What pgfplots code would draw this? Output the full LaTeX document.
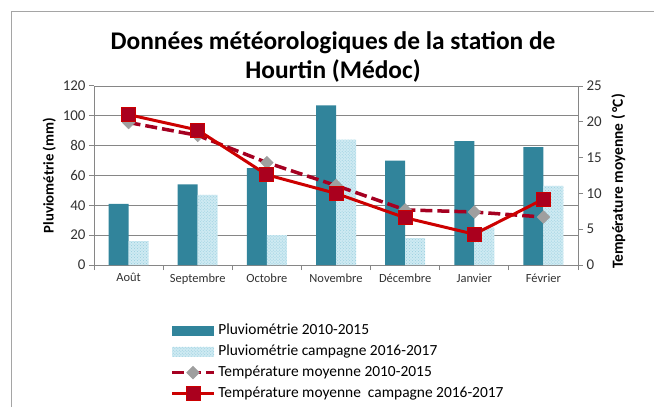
\documentclass[border=0pt]{standalone}
\usepackage{fontspec}
\setmainfont{Carlito}
\usepackage{pgfplots}
\pgfplotsset{compat=1.18}
\usetikzlibrary{patterns}
\definecolor{teal1}{RGB}{49,132,155}
\definecolor{lightb}{RGB}{206,234,242}
\definecolor{lightdot}{RGB}{150,205,222}
\definecolor{dred}{RGB}{165,0,33}
\definecolor{red1}{RGB}{204,0,0}
\definecolor{mkred}{RGB}{170,0,30}
\definecolor{gridc}{RGB}{134,134,134}
\definecolor{framec}{RGB}{165,165,165}
\definecolor{txt}{RGB}{50,50,50}
\pgfplotsset{
  barleg/.style={legend image code/.code={\fill[##1] (0bp,-5bp) rectangle (42bp,5bp);}},
  lineleg/.style={legend image code/.code={\draw[mark repeat=2,mark phase=2,##1] plot coordinates {(0bp,0bp)(21bp,0bp)(42bp,0bp)};}},
  common/.style={
    at={(94bp,142bp)}, anchor=south west, scale only axis,
    width=484bp, height=179bp,
    xmin=-0.5, xmax=6.5,
    axis line style={gridc, line width=1bp, -},
    tick style={gridc, line width=1bp},
    tick align=outside, major tick length=5bp,
    /pgf/number format/assume math mode=true,
    yticklabel style={font=\fontsize{15}{17}\selectfont, text=txt},
  },
}
\begin{document}
\begin{tikzpicture}[x=1bp,y=1bp]
\useasboundingbox (0,0) rectangle (654,407);
\draw[framec, line width=1bp] (11,0) -- (11,395) -- (654,395);
\node[font=\bfseries\fontsize{25.5}{29}\selectfont, align=center] at (333,350) {Données météorologiques de la station de\\Hourtin (Médoc)};
\begin{axis}[common,
  ymin=0, ymax=120,
  ybar=0pt, bar width=20bp,
  xtick={-0.5,0.5,...,6.5},
  x tick label as interval,
  xticklabels={Août,Septembre,Octobre,Novembre,Décembre,Janvier,Février},
  xticklabel style={font=\fontsize{12.5}{14}\selectfont, text=txt},
  ytick={0,20,...,120},
  ymajorgrids, grid style={gridc, line width=0.8bp},
  axis x line*=bottom, axis y line*=left,
  ylabel={Pluviométrie (mm)},
  ylabel style={font=\bfseries\fontsize{14.8}{17}\selectfont},
]
\addplot[fill=teal1, draw=none] coordinates {(0,41)(1,54)(2,65)(3,107)(4,70)(5,83)(6,79)};
\addplot[fill=lightb, draw=none, postaction={pattern=crosshatch dots, pattern color=lightdot}] coordinates {(0,16)(1,47)(2,20)(3,84)(4,18)(5,25)(6,53)};
\end{axis}
\begin{axis}[common,
  ymin=0, ymax=25,
  axis y line*=right, axis x line=none,
  ytick={0,5,...,25},
  ylabel={Température moyenne (\,°C)},
  ylabel style={font=\bfseries\fontsize{15.5}{17}\selectfont, xshift=-6bp, yshift=-3bp},
  legend style={at={(axis description cs:0.151,-0.31)}, anchor=north west,
    draw=none, fill=none, font=\fontsize{15.5}{17}\selectfont,
    nodes={inner sep=1bp, text height=11bp, text depth=3bp},
    row sep=5bp,
    /tikz/every odd column/.append style={column sep=1.5bp}},
  legend cell align=left,
]
\addlegendimage{barleg, fill=teal1, draw=none}
\addlegendentry{Pluviométrie 2010-2015}
\addlegendimage{barleg, fill=lightb, draw=none, postaction={pattern=crosshatch dots, pattern color=lightdot}}
\addlegendentry{Pluviométrie campagne 2016-2017}
\addplot[lineleg, dred, line width=3.5bp, dash pattern=on 12bp off 5bp, mark=square*, mark size=4.5bp,
  mark options={solid, rotate=45, fill=gray!75, draw=gray!75, line width=0.5bp}]
  coordinates {(0,19.9)(1,18.1)(2,14.3)(3,11.1)(4,7.7)(5,7.4)(6,6.7)};
\addlegendentry{Température moyenne 2010-2015}
\addplot[lineleg, red1, line width=3bp, mark=square*, mark size=7bp,
  mark options={solid, fill=mkred, draw=red1, line width=1bp}]
  coordinates {(0,21.0)(1,18.85)(2,12.6)(3,10.0)(4,6.6)(5,4.3)(6,9.2)};
\addlegendentry{Température moyenne \ campagne 2016-2017}
\end{axis}
\end{tikzpicture}
\end{document}
